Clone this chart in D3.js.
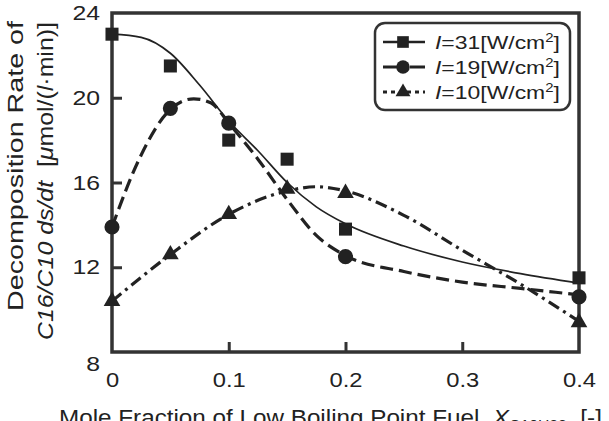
<!DOCTYPE html>
<html>
<head>
<meta charset="utf-8">
<script src="https://cdn.jsdelivr.net/npm/d3@7"></script>
<style>
  body { margin: 0; background: #fff; }
  svg { display: block; font-family: "Liberation Sans", Arial, sans-serif; }
</style>
</head>
<body>
<svg id="chart" width="609" height="421"></svg>
<script>
// measured points
var xPts = [0, 0.05, 0.1, 0.15, 0.2, 0.4];
var pts31 = [23.0, 21.5, 18.0, 17.1, 13.8, 11.5];
var xPts19 = [0, 0.05, 0.1, 0.2, 0.4];
var pts19 = [13.9, 19.5, 18.8, 12.5, 10.6];
var pts10 = [10.4, 12.6, 14.5, 15.7, 15.5, 9.4];

// fitted curves
var fitX31 = [0, 0.025, 0.05, 0.075, 0.1, 0.125, 0.15, 0.175, 0.2, 0.25, 0.3, 0.35, 0.4];
var fit31  = [23.0, 22.85, 22.1, 20.6, 18.9, 17.5, 16.0, 14.85, 14.05, 13.0, 12.25, 11.7, 11.25];
var fitX19 = [0, 0.025, 0.05, 0.07, 0.085, 0.1, 0.125, 0.15, 0.175, 0.2, 0.25, 0.3, 0.35, 0.4];
var fit19  = [13.9, 17.3, 19.45, 19.95, 19.75, 18.8, 17.1, 15.2, 13.5, 12.55, 11.8, 11.3, 11.0, 10.7];
var fitX10 = [0, 0.05, 0.1, 0.15, 0.175, 0.2, 0.25, 0.3, 0.35, 0.4];
var fit10  = [10.4, 12.6, 14.5, 15.6, 15.8, 15.6, 14.45, 12.8, 11.2, 9.45];

var xTicks = [0, 0.1, 0.2, 0.3, 0.4];
var yTicks = [8, 12, 16, 20, 24];
var legendVals = ["31", "19", "10"];

var ink = "#222";
var svg = d3.select("#chart");

var x = d3.scaleLinear().domain([0, 0.4]).range([112, 579]);
var y = d3.scaleLinear().domain([8, 24]).range([352, 13]);

// stretch text horizontally (the figure's type is wide)
function widen(sel, k) {
    sel.each(function() {
        var len = this.getComputedTextLength();
        d3.select(this).attr("textLength", len * k).attr("lengthAdjust", "spacingAndGlyphs");
    });
}

// axes
var xAxis = svg.append("g").attr("transform", "translate(0," + y(8) + ")")
    .call(d3.axisBottom(x).tickValues(xTicks).tickSize(-10).tickPadding(20)
        .tickFormat(function(d) { return d === 0 ? "0" : d3.format(".1f")(d); }));
var yAxis = svg.append("g").attr("transform", "translate(" + x(0) + ",0)")
    .call(d3.axisLeft(y).tickValues(yTicks).tickSize(-10).tickPadding(12));

[xAxis, yAxis].forEach(function(a) {
    a.select(".domain").remove();
    a.selectAll("line").attr("stroke", "#333").attr("stroke-width", 3);
    a.selectAll("text").attr("fill", ink).attr("font-size", 21)
        .attr("font-family", "Liberation Sans, Arial, sans-serif");
});
yAxis.selectAll(".tick").filter(function(d) { return d === 8; }).select("text").attr("dy", "0.9em");
xAxis.selectAll(".tick").filter(function(d) { return d === 0 || d === 0.4; }).select("line").remove();
yAxis.selectAll(".tick").filter(function(d) { return d === 8 || d === 24; }).select("line").remove();
widen(xAxis.selectAll("text"), 1.13);
widen(yAxis.selectAll("text"), 1.18);

// frame
svg.append("rect")
    .attr("x", x(0)).attr("y", y(24))
    .attr("width", x(0.4) - x(0)).attr("height", y(8) - y(24))
    .attr("fill", "none").attr("stroke", "#333").attr("stroke-width", 3.5);

// curves
var line = d3.line().curve(d3.curveMonotoneX)
    .x(function(d) { return x(d[0]); })
    .y(function(d) { return y(d[1]); });

var series = [
    { fx: fitX31, fy: fit31, px: xPts, py: pts31, dash: null, w: 1.7, sym: d3.symbolSquare, size: 170 },
    { fx: fitX19, fy: fit19, px: xPts19, py: pts19, dash: "13,6", w: 3.2, sym: d3.symbolCircle, size: 180 },
    { fx: fitX10, fy: fit10, px: xPts, py: pts10, dash: "12,5,3,5", w: 3.2, sym: d3.symbolTriangle, size: 120 }
];

series.forEach(function(s) {
    svg.append("path")
        .datum(d3.zip(s.fx, s.fy))
        .attr("d", line)
        .attr("fill", "none")
        .attr("stroke", ink)
        .attr("stroke-width", s.w)
        .attr("stroke-dasharray", s.dash);

    svg.selectAll(null)
        .data(d3.zip(s.px, s.py))
        .enter()
        .append("path")
        .attr("d", d3.symbol().type(s.sym).size(s.size))
        .attr("transform", function(d) { return "translate(" + x(d[0]) + "," + y(d[1]) + ")"; })
        .attr("fill", ink);
});

// legend
svg.append("rect")
    .attr("x", 375).attr("y", 23).attr("width", 195).attr("height", 87).attr("rx", 10)
    .attr("fill", "#fff").attr("stroke", "#333").attr("stroke-width", 2.5);

var leg = svg.selectAll(".leg")
    .data(series)
    .enter()
    .append("g")
    .attr("class", "leg")
    .attr("transform", function(d, i) { return "translate(0," + (42 + i * 25) + ")"; });

leg.append("line")
    .attr("x1", 383).attr("x2", 425)
    .attr("stroke", ink)
    .attr("stroke-width", function(d) { return d.w === 1.7 ? 2.5 : 3.2; })
    .attr("stroke-dasharray", function(d) { return d.dash ? (d.dash === "13,6" ? "15,4,4,4" : "4,4,4,4") : null; });

leg.append("path")
    .attr("d", function(d) { return d3.symbol().type(d.sym).size(d.size * 0.8)(); })
    .attr("transform", "translate(403,0)")
    .attr("fill", ink);

var legText = leg.append("text")
    .attr("x", 435).attr("y", 7)
    .attr("font-size", 18.5)
    .attr("fill", ink);
legText.append("tspan").attr("font-style", "italic").text("I");
legText.append("tspan").text(function(d, i) { return "=" + legendVals[i] + "[W/cm"; });
legText.append("tspan").attr("font-size", 12).attr("dy", -7).text("2");
legText.append("tspan").attr("dy", 7).text("]");
legText.each(function() {
    var len = this.getComputedTextLength();
    var k = 125 / len;
    d3.select(this).attr("transform", "translate(435,0) scale(" + k + ",1) translate(-435,0)");
});

// y label
var yl1 = svg.append("text")
    .attr("text-anchor", "middle")
    .attr("font-size", 21.5)
    .attr("fill", ink)
    .text("Decomposition Rate of");
var k1 = 290 / yl1.node().getComputedTextLength();
yl1.attr("transform", "translate(23,166) rotate(-90) scale(" + k1 + ",1)");

var yl2 = svg.append("text")
    .attr("text-anchor", "middle")
    .attr("font-size", 21.5)
    .attr("fill", ink);
yl2.append("tspan").attr("font-style", "italic").text("C16/C10 ds/dt");
yl2.append("tspan").text("\u00a0\u00a0[");
yl2.append("tspan").attr("font-style", "italic").text("\u03bc");
yl2.append("tspan").text("mol/(");
yl2.append("tspan").attr("font-style", "italic").text("l");
yl2.append("tspan").text("\u00b7min)]");
var k2 = 318 / yl2.node().getComputedTextLength();
yl2.attr("transform", "translate(53,181) rotate(-90) scale(" + k2 + ",1)");

// x label
var xl = svg.append("text")
    .attr("font-size", 21.5)
    .attr("fill", ink);
var xlMain = xl.append("tspan").text("Mole Fraction of Low Boiling Point Fuel\u00a0\u00a0");
xl.append("tspan").attr("font-style", "italic").text("X");
xl.append("tspan").attr("font-size", 14).attr("dy", 5).text("C10H22");
xl.append("tspan").attr("dy", -5).text("\u00a0\u00a0[-]");
var kx = 434 / xlMain.node().getComputedTextLength();
xl.attr("transform", "translate(59,425) scale(" + Math.min(kx, 1.25) + ",1)");
</script>
</body>
</html>
